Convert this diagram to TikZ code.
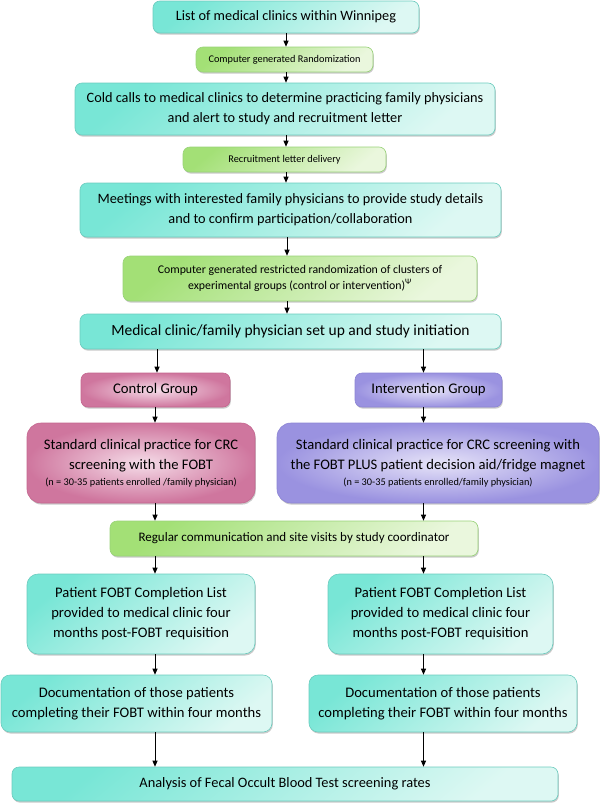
\documentclass[tikz,border=0pt]{standalone}
\usepackage{fontspec}
\setmainfont{Carlito}
\usetikzlibrary{arrows.meta,shadows}
\definecolor{cyD}{HTML}{78E6D6}
\definecolor{cyL}{HTML}{DDF8F3}
\definecolor{cyB}{HTML}{6CCBBE}
\definecolor{grD}{HTML}{A3E076}
\definecolor{grL}{HTML}{EAF7DD}
\definecolor{grB}{HTML}{98D278}
\definecolor{pkD}{HTML}{CF769E}
\definecolor{pkL}{HTML}{F5DCE8}
\definecolor{pkB}{HTML}{C4668F}
\definecolor{puD}{HTML}{9A92E0}
\definecolor{puL}{HTML}{E6E3F8}
\definecolor{puB}{HTML}{8C84D4}
\tikzset{
  basebox/.style={rounded corners=7pt, align=center, inner sep=2pt, line width=0.6pt,
    drop shadow={shadow xshift=0.8pt, shadow yshift=-1.6pt, opacity=0.35, fill=black!60}},
  cybox/.style={basebox, draw=cyB, top color=cyD, bottom color=cyL, shading angle=40},
  grbox/.style={basebox, draw=grB, top color=grD, bottom color=grL, shading angle=40},
  pkbox/.style={basebox, draw=pkB, inner color=pkL, outer color=pkD},
  pubox/.style={basebox, draw=puB, inner color=puL, outer color=puD},
  arr/.style={-{Triangle[length=6pt,width=5pt]}, line width=0.9pt, black},
  fA/.style={font=\fontsize{14.3}{20}\selectfont},
  fB/.style={font=\fontsize{14.6}{20}\selectfont},
  fS/.style={font=\fontsize{10.3}{12}\selectfont},
}
\newcommand{\smallline}{\fontsize{10.3}{12}\selectfont}
\begin{document}
\begin{tikzpicture}[x=1pt,y=-1pt]
\useasboundingbox (0,0) rectangle (600,803);
\coordinate (cx) at (286,0);
\coordinate (cy) at (287,0);
\coordinate (xl) at (155,0);
\coordinate (xla) at (157,0);
\coordinate (xr) at (423.5,0);

\node[cybox, fA, minimum width=266pt, minimum height=32pt] (n1) at (286,17) {List of medical clinics within Winnipeg};
\node[grbox, fS, minimum width=177pt, minimum height=25pt] (n2) at (284.5,59.5) {Computer generated Randomization};
\node[cybox, fA, minimum width=420pt, minimum height=52pt] (n3) at (285,109) {Cold calls to medical clinics to determine practicing family physicians\\ and alert to study and recruitment letter};
\node[grbox, fS, minimum width=203pt, minimum height=25pt] (n4) at (284.5,159.5) {Recruitment letter delivery};
\node[cybox, fA, minimum width=421pt, minimum height=54pt] (n5) at (290.5,210) {Meetings with interested family physicians to provide study details\\ and to confirm participation/collaboration};
\node[grbox, font=\fontsize{11.8}{15.5}\selectfont, minimum width=354pt, minimum height=45pt] (n6) at (300,278.5) {Computer generated restricted randomization of clusters of\\ experimental groups (control or intervention)\textsuperscript{Ψ}};
\node[cybox, font=\fontsize{15.5}{18}\selectfont, minimum width=421pt, minimum height=35pt] (n7) at (290.5,331.5) {Medical clinic/family physician set up and study initiation};
\node[pkbox, font=\fontsize{14.7}{17}\selectfont, minimum width=149pt, minimum height=34pt] (n8) at (155.5,390) {Control Group};
\node[pubox, font=\fontsize{14.7}{17}\selectfont, minimum width=147pt, minimum height=34pt] (n9) at (428.5,390) {Intervention Group};
\node[pkbox, fB, rounded corners=14pt, minimum width=228pt, minimum height=80pt] (n10) at (141,463) {Standard clinical practice for CRC\\ screening with the FOBT\\[-4pt] {\smallline (n = 30-35 patients enrolled /family physician)}};
\node[pubox, fB, rounded corners=14pt, minimum width=322pt, minimum height=80pt] (n11) at (438,463) {Standard clinical practice for CRC screening with\\ the FOBT PLUS patient decision aid/fridge magnet\\[-4pt] {\smallline (n = 30-35 patients enrolled/family physician)}};
\node[grbox, font=\fontsize{13}{16}\selectfont, minimum width=368pt, minimum height=35pt] (n12) at (294,538.5) {Regular communication and site visits by study coordinator};
\node[cybox, fB, rounded corners=11pt, minimum width=228pt, minimum height=80pt] (n13) at (141,614) {Patient FOBT Completion List\\ provided to medical clinic four\\ months post-FOBT requisition};
\node[cybox, fB, rounded corners=11pt, minimum width=225pt, minimum height=80pt] (n14) at (440.5,614) {Patient FOBT Completion List\\ provided to medical clinic four\\ months post-FOBT requisition};
\node[cybox, fB, rounded corners=9pt, minimum width=271pt, minimum height=57pt] (n15) at (136.5,703.5) {Documentation of those patients\\ completing their FOBT within four months};
\node[cybox, fB, rounded corners=9pt, minimum width=268pt, minimum height=57pt] (n16) at (443,703.5) {Documentation of those patients\\ completing their FOBT within four months};
\node[cybox, font=\fontsize{14.4}{17}\selectfont, minimum width=546pt, minimum height=34pt] (n17) at (285,784) {Analysis of Fecal Occult Blood Test screening rates};

\draw[arr] (n1.south -| cx) -- (n2.north -| cx);
\draw[arr] (n2.south -| cx) -- (n3.north -| cx);
\draw[arr] (n3.south -| cx) -- (n4.north -| cx);
\draw[arr] (n4.south -| cx) -- (n5.north -| cx);
\draw[arr] (n5.south -| cy) -- (n6.north -| cy);
\draw[arr] (n6.south -| cy) -- (n7.north -| cy);
\draw[arr] (n7.south -| xla) -- (n8.north -| xla);
\draw[arr] (n7.south -| xr) -- (n9.north -| xr);
\draw[arr] (n8.south -| xl) -- (n10.north -| xl);
\draw[arr] (n9.south -| xr) -- (n11.north -| xr);
\draw[arr] (n10.south -| xl) -- (n12.north -| xl);
\draw[arr] (n11.south -| xr) -- (n12.north -| xr);
\draw[arr] (n12.south -| xl) -- (n13.north -| xl);
\draw[arr] (n12.south -| xr) -- (n14.north -| xr);
\draw[arr] (n13.south -| xl) -- (n15.north -| xl);
\draw[arr] (n14.south -| xr) -- (n16.north -| xr);
\draw[arr] (n15.south -| xl) -- (n17.north -| xl);
\draw[arr] (n16.south -| xr) -- (n17.north -| xr);
\end{tikzpicture}
\end{document}
